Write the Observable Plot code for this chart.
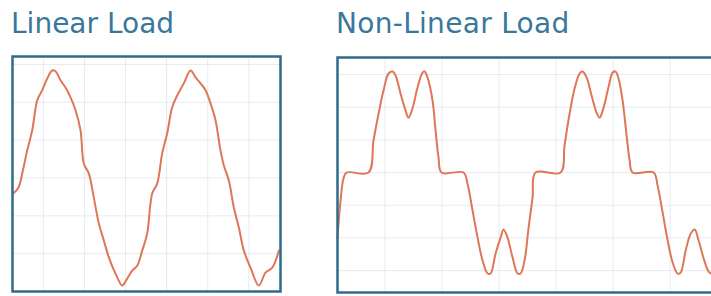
<!DOCTYPE html>
<html><head><meta charset="utf-8">
<script src="https://cdn.jsdelivr.net/npm/d3@7"></script>
<script src="https://cdn.jsdelivr.net/npm/@observablehq/plot@0.6"></script>
<style>
html,body{margin:0;padding:0;background:#fff;width:711px;height:296px;overflow:hidden;position:relative;font-family:"DejaVu Sans",sans-serif}
.title{position:absolute;color:#3a789b;font-size:28px;line-height:30px;white-space:nowrap}
.panel{position:absolute}
.panel svg{max-width:none !important}
</style></head><body>
<div class="title" id="t1" style="left:11px;top:9px">Linear Load</div>
<div class="title" id="t2" style="left:336px;top:9px;letter-spacing:0.3px">Non-Linear Load</div>
<div class="panel" id="p1" style="left:10px;top:54px;width:272px"></div>
<div class="panel" id="p2" style="left:335px;top:55px;width:387px"></div>
<script>
// Linear load: time (ms) and voltage (V)
const linearT = [0.1,0.88,1.42,2.15,2.88,3.61,4.34,5.07,5.8,6.28,7.01,7.74,8.47,9.2,9.93,10.41,11.14,11.87,12.6,13.33,14.06,15.04,16.01,16.74,17.47,18.2,18.93,19.66,20.39,21.12,21.85,22.58,23.31,24.04,25.0,25.99,26.72,27.45,28.18,28.91,29.64,30.36,30.85,31.58,32.31,33.04,33.77,34.74,35.96,36.93,37.91,38.88];
const linearV = [-41,-25,12,73,126,205,232,263,284,282,258,239,213,179,126,38,12,-52,-120,-165,-210,-253,-284,-266,-245,-232,-192,-147,-41,-15,65,118,187,218,250,284,266,250,232,197,152,73,33,-7,-78,-131,-192,-237,-284,-250,-237,-192];
// Non-linear load: time (ms) and voltage (V)
const nonlinearT = [0,0.32,0.63,0.95,3.26,3.79,4.32,4.84,5.37,5.79,6.11,6.63,7.16,7.47,7.89,8.42,8.95,9.16,9.47,10.0,10.32,10.63,10.95,13.26,13.68,14.21,14.74,15.26,15.79,16.11,16.63,17.16,17.47,17.89,18.42,18.95,19.26,19.68,20.11,20.53,20.84,23.47,23.89,24.42,24.95,25.47,25.79,26.21,26.74,27.26,27.58,28.0,28.53,28.95,29.26,29.58,30.0,30.42,30.74,31.05,33.26,33.68,34.21,34.74,35.26,35.79,36.11,36.63,37.16,37.58,38.0,38.53,39.05,39.47];
const nonlinearV = [-199,-86,-18,0,0,98,180,251,303,309,297,242,190,168,196,260,306,309,291,220,128,46,0,0,-34,-116,-199,-269,-309,-309,-248,-199,-174,-199,-260,-309,-309,-269,-168,-76,0,0,83,180,257,303,309,291,235,183,168,199,263,306,309,287,220,113,37,0,0,-40,-122,-208,-275,-309,-306,-239,-187,-174,-208,-263,-303,-312];
// grid ticks
const linearGridT = [4.5,10.5,16.5,22.5,28.5,34.5];
const linearGridV = [-200,-100,0,100,200,300];
const nonlinearGridT = [5,11,17,23,29,35];
const nonlinearGridV = [-300,-200,-100,0,100,200,300];

const linearData = linearT.map((t,i)=>({t, v: linearV[i]}));
const nonlinearData = nonlinearT.map((t,i)=>({t, v: nonlinearV[i]}));

const gridColor = "#e6ebf0";
const lineColor = "#dd7758";
const frameColor = "#2f6b8a";

function panel(data, gx, gy, xdom, ydom, w, h, curve) {
  return Plot.plot({
    width: w, height: h,
    marginLeft: 2, marginRight: 2, marginTop: 2, marginBottom: 2,
    x: {domain: xdom, axis: null},
    y: {domain: ydom, axis: null},
    style: {background: "white", overflow: "visible", maxWidth: "none"},
    marks: [
      Plot.gridX(gx, {stroke: gridColor, strokeOpacity: 1, strokeWidth: 1}),
      Plot.gridY(gy, {stroke: gridColor, strokeOpacity: 1, strokeWidth: 1}),
      Plot.line(data, {x: "t", y: "v", stroke: lineColor, strokeWidth: 2, curve}),
      Plot.frame({stroke: frameColor, strokeWidth: 2.5})
    ]
  });
}

document.getElementById("p1").appendChild(
  panel(linearData, linearGridT, linearGridV, [0, 39.12], [-300, 321], 272, 239, "catmull-rom"));
document.getElementById("p2").appendChild(
  panel(nonlinearData, nonlinearGridT, nonlinearGridV, [0, 40.3], [-367, 352], 387, 239, "catmull-rom"));
</script>
</body></html>
